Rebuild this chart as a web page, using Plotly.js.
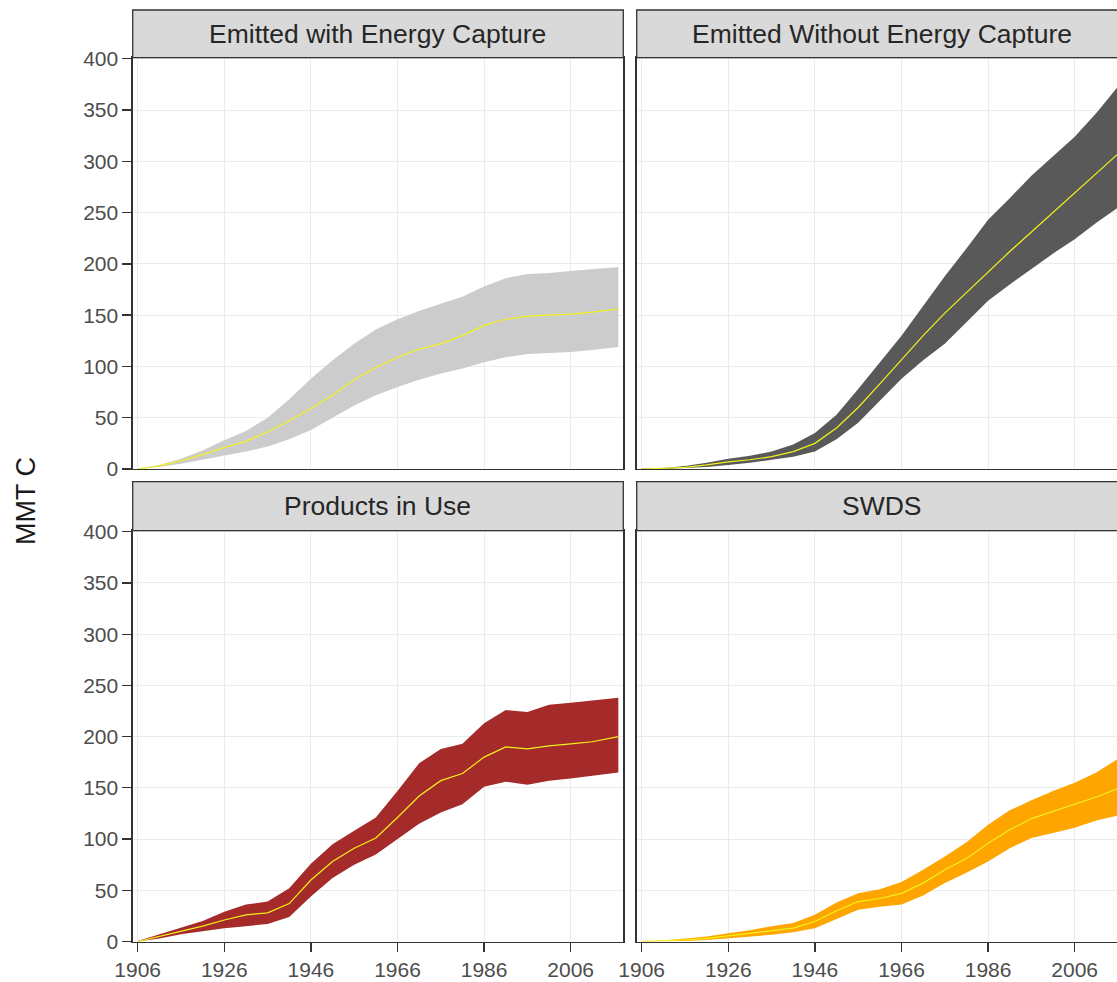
<!DOCTYPE html>
<html>
<head>
<meta charset="utf-8">
<script src="https://cdn.plot.ly/plotly-3.0.1.min.js"></script>
<style>
html,body{margin:0;padding:0;overflow:hidden;background:#fff;}
#chart{width:1130px;height:982px;}
</style>
</head>
<body>
<div id="chart"></div>
<script>
// ---- data ----
const years = [1906,1911,1916,1921,1926,1931,1936,1941,1946,1951,1956,1961,1966,1971,1976,1981,1986,1991,1996,2001,2006,2011,2017];

const panelTitles = ["Emitted with Energy Capture","Emitted Without Energy Capture","Products in Use","SWDS"];

// Emitted with Energy Capture
const eecMean  = [0,3,8,14,21,27,36,47,59,72,87,99,109,117,122,130,140,146,149,150,151,153,156];
const eecUpper = [0.5,4,10,18,28,37,50,68,88,106,122,136,146,154,161,168,178,186,190,191,193,195,197];
const eecLower = [0,2,5,9,13,17,22,29,38,50,62,72,80,87,93,98,104,109,112,113,114,116,119];

// Emitted Without Energy Capture
const ewecMean  = [0,0.5,1.5,4,7,9,12,17,25,40,60,83,107,130,152,172,193,212,231,250,269,288,311];
const ewecUpper = [0.5,1,3,6,10,13,17,24,35,53,78,104,130,159,188,215,243,264,286,305,324,347,378];
const ewecLower = [0,0,1,2,4,6,9,12,17,29,45,66,88,106,122,143,164,180,195,210,224,240,258];

// Products in Use
const piuMean  = [0,5,10,15,21,26,28,37,60,78,91,101,121,142,157,164,180,190,188,191,193,195,200];
const piuUpper = [0.5,7,13,20,29,36,39,52,76,95,108,121,147,174,188,193,213,226,224,231,233,235,238];
const piuLower = [0,3,7,10,13,15,17,24,44,62,75,85,100,115,126,134,151,156,153,157,159,162,165];

// SWDS
const swdsMean  = [0,0.5,1.5,3,5.5,8,10,13,19.5,30,39,42,47,57,70,81,96,109,120,127,134,141,151];
const swdsUpper = [0.5,1,3,5,8,11,15,18,26,38,47,51,58,70,83,97,114,128,138,147,155,165,181];
const swdsLower = [0,0,0.5,1.5,3,5,6.5,9,13,22,31,34,36,45,57,67,78,91,101,106,111,118,124];

const xTicks = [1906,1926,1946,1966,1986,2006];
const yTicks = [0,50,100,150,200,250,300,350,400];
const yTitle = "MMT C";

// ---- styling ----
const W = 1130, H = 982;
const FONT = "Liberation Sans, Arial, sans-serif";
const fills = ["#cccccc","#595959","#a52a2a","#ffa500"];
const lineColor = "#f2f21a";

const px = v => v / W;
const py = v => (H - v) / H;

const colDom = [[px(132.7), px(623.3)], [px(636.7), px(1127.3)]];
const rowDom = [[py(469), py(57.7)], [py(941.5), py(530.7)]];
const stripDom = [[py(57.7), py(10)], [py(530.7), py(481.7)]];

const series = [
  [eecMean, eecUpper, eecLower],
  [ewecMean, ewecUpper, ewecLower],
  [piuMean, piuUpper, piuLower],
  [swdsMean, swdsUpper, swdsLower]
];

const traces = [];
const layout = {
  width: W, height: H,
  margin: {l:0, r:0, t:0, b:0},
  paper_bgcolor: "#ffffff",
  plot_bgcolor: "#ffffff",
  showlegend: false,
  font: {family: FONT, color: "#4d4d4d"},
  shapes: [],
  annotations: []
};

for (let i = 0; i < 4; i++) {
  const row = Math.floor(i / 2), col = i % 2;
  const ax = i === 0 ? "" : String(i + 1);
  const xa = "x" + ax, ya = "y" + ax;
  const [mean, up, lo] = series[i];

  traces.push({x: years, y: lo, xaxis: xa, yaxis: ya, type: "scatter", mode: "lines",
               line: {width: 0, color: fills[i]}, hoverinfo: "skip"});
  traces.push({x: years, y: up, xaxis: xa, yaxis: ya, type: "scatter", mode: "lines",
               fill: "tonexty", fillcolor: fills[i], line: {width: 0, color: fills[i]}, hoverinfo: "skip"});
  traces.push({x: years, y: mean, xaxis: xa, yaxis: ya, type: "scatter", mode: "lines",
               line: {width: 1.2, color: lineColor}});

  layout["xaxis" + ax] = {
    domain: colDom[col], anchor: ya, range: [1904.85, 2018.15],
    tickvals: xTicks, ticktext: xTicks.map(String),
    showticklabels: row === 1, ticks: row === 1 ? "outside" : "",
    ticklen: 9, tickwidth: 1.3, tickcolor: "#333333",
    tickfont: {family: FONT, size: 21, color: "#4d4d4d"},
    showgrid: true, gridcolor: "#ebebeb", gridwidth: 1,
    showline: true, mirror: true, linecolor: "#333333", linewidth: 1.3,
    zeroline: false, fixedrange: true
  };
  layout["yaxis" + ax] = {
    domain: rowDom[row], anchor: xa, range: [0, 401],
    tickvals: yTicks, ticktext: yTicks.map(String),
    showticklabels: col === 0, ticks: col === 0 ? "outside" : "",
    ticklen: 9, tickwidth: 1.3, tickcolor: "#333333",
    tickfont: {family: FONT, size: 21, color: "#4d4d4d"},
    showgrid: true, gridcolor: "#ebebeb", gridwidth: 1,
    showline: true, mirror: true, linecolor: "#333333", linewidth: 1.3,
    zeroline: false, fixedrange: true
  };

  // facet strip
  layout.shapes.push({type: "rect", xref: "paper", yref: "paper",
    x0: colDom[col][0], x1: colDom[col][1], y0: stripDom[row][0], y1: stripDom[row][1],
    fillcolor: "#d9d9d9", line: {color: "#333333", width: 1.3}, layer: "above"});
  layout.annotations.push({xref: "paper", yref: "paper",
    x: (colDom[col][0] + colDom[col][1]) / 2, y: (stripDom[row][0] + stripDom[row][1]) / 2,
    text: panelTitles[i], showarrow: false, xanchor: "center", yanchor: "middle",
    font: {family: FONT, size: 26.5, color: "#262626"}});
}

// y axis title
layout.annotations.push({xref: "paper", yref: "paper", x: px(26), y: py(501),
  text: yTitle, showarrow: false, textangle: -90, xanchor: "center", yanchor: "middle",
  font: {family: FONT, size: 27, color: "#1a1a1a"}});

Plotly.newPlot("chart", traces, layout, {displayModeBar: false, staticPlot: true});
</script>
</body>
</html>
